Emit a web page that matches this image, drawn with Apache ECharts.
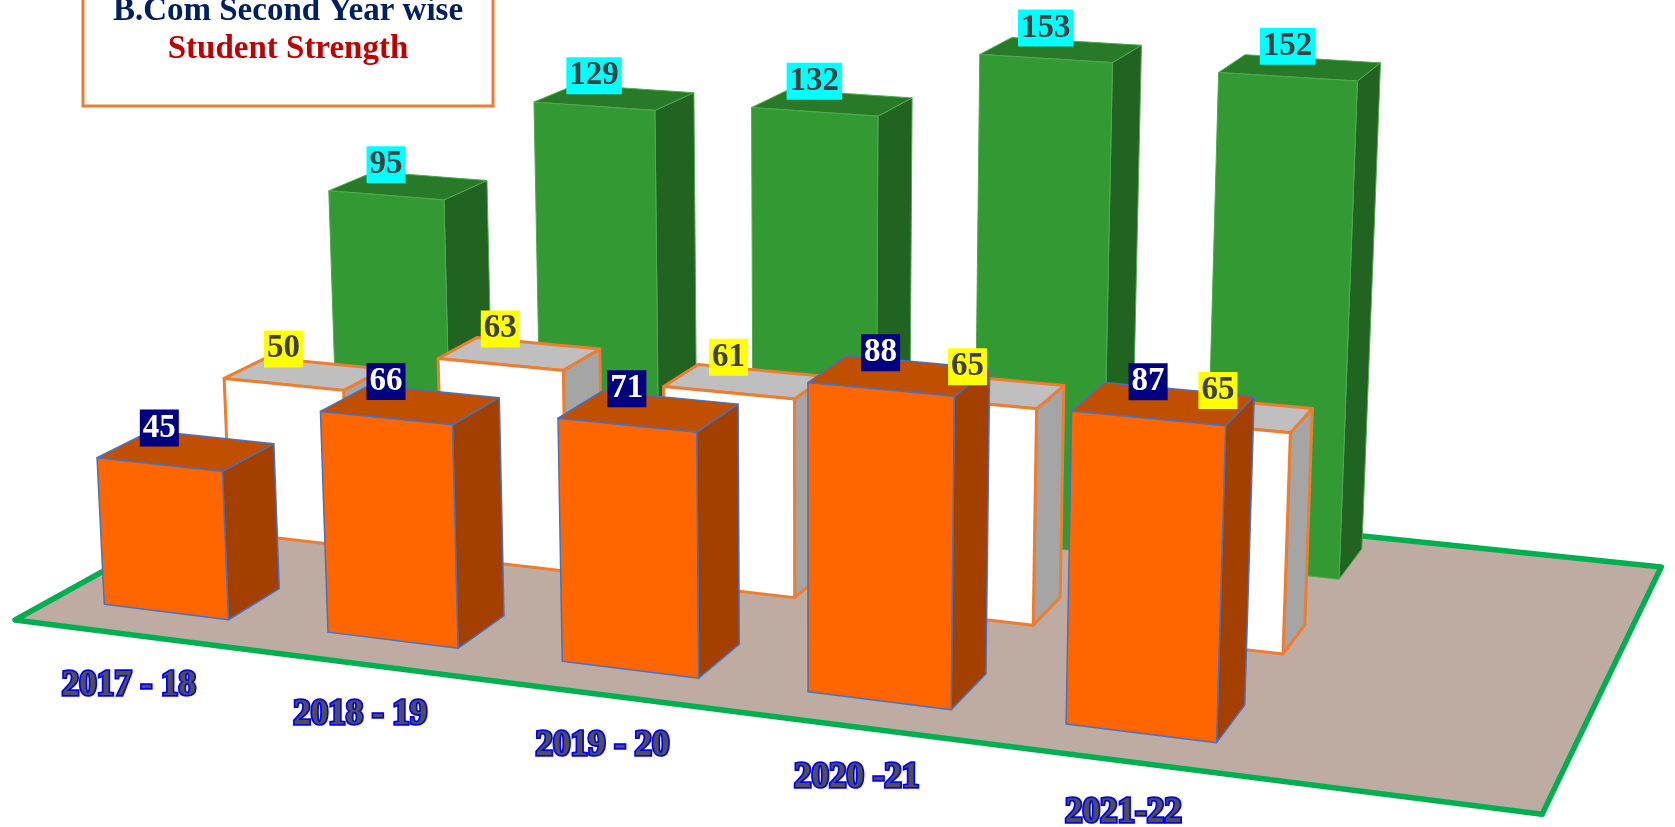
<!DOCTYPE html>
<html>
<head>
<meta charset="utf-8">
<title>B.Com Second Year wise Student Strength</title>
<script src="https://cdn.jsdelivr.net/npm/echarts@6/dist/echarts.min.js"></script>
<style>
  html, body { margin: 0; padding: 0; background: #fff; }
  #chart { width: 1675px; height: 827px; }
</style>
</head>
<body>
<div id="chart"></div>
<script>
var categories = ['2017 - 18', '2018 - 19', '2019 - 20', '2020 -21', '2021-22'];
var frontValues = [45, 66, 71, 88, 87];      // orange row
var middleValues = [50, 63, 61, 65, 65];     // white row
var backValues = [95, 129, 132, 153, 152];   // green row

// perspective camera: where the x (category), y (value) and z (depth) directions vanish,
// the image of the world origin, and how fast each axis runs toward its vanishing point
var VX = [-9500, -590], VY = [812, 14850], VZ = [2225, -603], ORIGIN = [15, 620];
var KX = -0.02305, KY = -0.0002293, KZ = 0.0607;

function proj(x, y, z) {
  var a = KX * x, b = KY * y, c = KZ * z;
  var w = 1 + a + b + c;
  return [
    (a * VX[0] + b * VY[0] + c * VZ[0] + ORIGIN[0]) / w,
    (a * VX[1] + b * VY[1] + c * VZ[1] + ORIGIN[1]) / w
  ];
}

var BAR_LEFT = 0.229, BAR_WIDTH = 0.561;
var FLOOR_W = 6, FLOOR_D = 3;
var LABEL_FONT = 'bold 33px "Liberation Serif", serif';

var rows = {
  front: { z0: 0.30, depth: 0.43, front: '#FF6600', top: '#C04F00', side: '#A34000',
    edge: '#4472C4', edgeWidth: 1.5, labelBg: '#000080', labelColor: '#FFFFFF', labelGap: 18 },
  middle: { z0: 1.355, depth: 0.38, front: '#FFFFFF', top: '#BFBFBF', side: '#A5A5A5',
    edge: '#ED7D31', edgeWidth: 3, labelBg: '#FFFF00', labelColor: '#404040', labelGap: 17 },
  back: { z0: 2.367, depth: 0.45, front: '#339933', top: '#287A28', side: '#216421',
    edge: '#4FAA4F', edgeWidth: 1, labelBg: '#00FFFF', labelColor: '#404040', labelGap: 12 }
};

function barRenderer(row) {
  return function (params, api) {
    var i = api.value(0), v = api.value(1);
    var x0 = i + BAR_LEFT, x1 = x0 + BAR_WIDTH;
    var z0 = row.z0, z1 = row.z0 + row.depth;
    function face(pts, fill) {
      return {
        type: 'polygon',
        shape: { points: pts },
        style: { fill: fill, stroke: row.edge, lineWidth: row.edgeWidth, lineJoin: 'round' }
      };
    }
    return {
      type: 'group',
      children: [
        face([proj(x1, 0, z0), proj(x1, 0, z1), proj(x1, v, z1), proj(x1, v, z0)], row.side),
        face([proj(x0, v, z0), proj(x1, v, z0), proj(x1, v, z1), proj(x0, v, z1)], row.top),
        face([proj(x0, 0, z0), proj(x1, 0, z0), proj(x1, v, z0), proj(x0, v, z0)], row.front)
      ]
    };
  };
}

function labelRenderer(row) {
  return function (params, api) {
    var i = api.value(0), v = api.value(1);
    var p = proj(i + BAR_LEFT + BAR_WIDTH / 2, v, row.z0);
    return {
      type: 'text',
      x: p[0],
      y: p[1] - row.labelGap,
      style: {
        text: String(v),
        font: LABEL_FONT,
        fill: row.labelColor,
        backgroundColor: row.labelBg,
        padding: [2, 3, 2, 3],
        lineHeight: 33,
        align: 'center',
        verticalAlign: 'bottom'
      }
    };
  };
}

function categoryRenderer(params, api) {
  var i = api.value(0);
  var p = proj(0.8 + 0.963 * i, 0, -0.5 + 0.01 * i);
  return {
    type: 'text',
    x: p[0],
    y: p[1] + 3,
    style: {
      text: categories[i],
      font: 'bold 35px "Liberation Serif", serif',
      fill: '#505050',
      stroke: '#0000FF',
      lineWidth: 3.5,
      align: 'center',
      verticalAlign: 'middle'
    }
  };
}

function pairs(values) {
  return values.map(function (v, i) { return [i, v]; });
}

function barSeries(values, row) {
  return {
    type: 'custom', coordinateSystem: 'cartesian2d', z: 2, clip: false,
    encode: { x: 0, y: 1 }, data: pairs(values), renderItem: barRenderer(row)
  };
}

function labelSeries(values, row) {
  return {
    type: 'custom', coordinateSystem: 'cartesian2d', z: 5, clip: false,
    encode: { x: 0, y: 1 }, data: pairs(values), renderItem: labelRenderer(row)
  };
}

var floor = [proj(0, 0, 0), proj(FLOOR_W, 0, 0), proj(FLOOR_W, 0, FLOOR_D), proj(0, 0, FLOOR_D)];

var chart = echarts.init(document.getElementById('chart'));
chart.setOption({
  animation: false,
  backgroundColor: '#FFFFFF',
  grid: { left: 0, right: 0, top: 0, bottom: 0 },
  xAxis: { type: 'category', data: categories, show: false },
  yAxis: { type: 'value', min: 0, max: 160, show: false },
  graphic: [
    {
      type: 'polygon', z: 0,
      shape: { points: floor },
      style: { fill: '#BEACA3', stroke: '#00B050', lineWidth: 5.5, lineJoin: 'round' }
    },
    {
      type: 'rect', z: 10,
      shape: { x: 83, y: -20, width: 410, height: 126 },
      style: { fill: '#FFFFFF', stroke: '#ED7D31', lineWidth: 3 }
    },
    {
      type: 'text', z: 11, x: 288, y: 11,
      style: { text: 'B.Com Second Year wise', font: 'bold 33px "Liberation Serif", serif',
        fill: '#002060', align: 'center', verticalAlign: 'middle' }
    },
    {
      type: 'text', z: 11, x: 288, y: 49,
      style: { text: 'Student Strength', font: 'bold 33px "Liberation Serif", serif',
        fill: '#C00000', align: 'center', verticalAlign: 'middle' }
    }
  ],
  series: [
    barSeries(backValues, rows.back),
    barSeries(middleValues, rows.middle),
    barSeries(frontValues, rows.front),
    labelSeries(backValues, rows.back),
    labelSeries(middleValues, rows.middle),
    labelSeries(frontValues, rows.front),
    {
      type: 'custom', coordinateSystem: 'cartesian2d', z: 5, clip: false,
      encode: { x: 0, y: 1 }, data: pairs(categories.map(function () { return 0; })),
      renderItem: categoryRenderer
    }
  ]
});
</script>
</body>
</html>
